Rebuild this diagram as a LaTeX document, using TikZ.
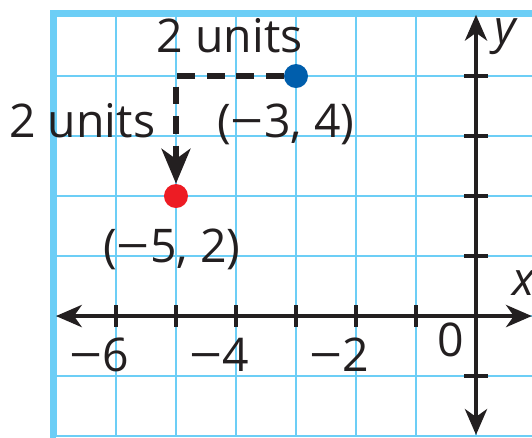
\documentclass[tikz,border=0pt]{standalone}
\usepackage{fontspec}
\setmainfont{Open Sans}
\usetikzlibrary{arrows.meta}
\definecolor{azulrejilla}{RGB}{108,206,246}
\definecolor{rojopunto}{RGB}{237,28,36}
\definecolor{azulpunto}{RGB}{0,94,172}
\definecolor{tinta}{RGB}{35,31,32}
\newcommand{\menos}{\scalebox{1.25}[1]{−}}
\tikzset{
  rejilla/.style={azulrejilla, line width=1pt},
  marco/.style={azulrejilla, line width=2.4pt},
  eje/.style={tinta, line width=1.8pt,
    {Stealth[length=4.3mm,width=3.7mm,inset=1.3mm]}-{Stealth[length=4.3mm,width=3.7mm,inset=1.3mm]}},
  marca/.style={tinta, line width=1.5pt},
  punto/.style={circle, inner sep=0pt, minimum size=0.4cm},
  etiqueta/.style={text=tinta, font=\fontsize{22}{26}\selectfont, inner sep=0pt},
  traslado/.style={tinta, line width=2.7pt, dash pattern=on 8.5pt off 5.5pt,
    -{Stealth[length=5.8mm,width=4.8mm,inset=1.7mm]}}
}
\begin{document}
\begin{tikzpicture}[scale=1]
  \useasboundingbox (-7.933,-2.017) rectangle (0.933,5.267);
  \clip (-7.933,-2.017) rectangle (0.933,5.267);

  % Rejilla y marco
  \draw[rejilla] (-7,-2) grid (1,5);
  \draw[marco] (-7.05,-2.2) |- (1.2,5.05);

  % Ejes con marcas
  \coordinate (xizq) at (-7,0);
  \coordinate (xder) at (0.93,0);
  \coordinate (yabajo) at (0,-1.98);
  \coordinate (yarriba) at (0,5.02);
  \draw[eje] (xizq) -- (xder);
  \draw[eje] (yabajo) -- (yarriba);
  \foreach \x in {-6,...,-1} \draw[marca] (\x,-0.18) -- (\x,0.18);
  \foreach \y in {-1,1,2,3,4} \draw[marca] (-0.2,\y) -- (0.2,\y);
  \foreach \x in {-6,-4,-2}
    \node[etiqueta, anchor=base east] (n\x) at (\x+0.23,-0.93) {\menos\the\numexpr-\x\relax};
  \node[etiqueta, anchor=base] (cero) at (-0.42,-0.68) {0};
  \node[etiqueta, anchor=base west] (ex) at (0.6,0.35) {\itshape x};
  \node[etiqueta, anchor=base west] (ye) at (0.3,4.55) {\itshape y};

  % Puntos y traslacion
  \node[punto, fill=azulpunto] (B) at (-3,4) {};
  \node[punto, fill=rojopunto] (R) at (-5,2) {};
  \draw[traslado] (B) -| node[etiqueta, pos=0.25, anchor=base, yshift=0.4cm] (arriba) {2 units}
                         node[etiqueta, pos=0.75, anchor=base east, xshift=-0.3cm, yshift=-0.12cm] (izq) {2 units} (R);
  \node[etiqueta, anchor=base] (tB) at (-3.17,2.98) {(\menos3, 4)};
  \node[etiqueta, anchor=base] (tR) at (-5.07,0.9) {(\menos5, 2)};
\end{tikzpicture}
\end{document}
